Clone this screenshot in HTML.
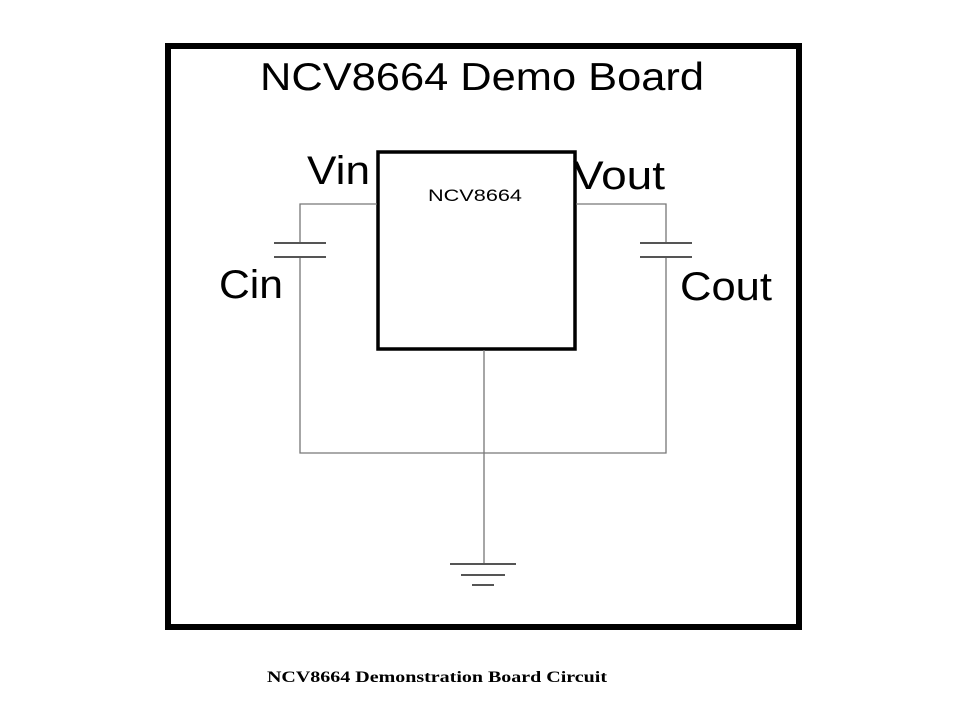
<!DOCTYPE html>
<html><head><style>
html,body{margin:0;padding:0;background:#fff;}
</style></head><body>
<svg width="978" height="699" viewBox="0 0 978 699" xmlns="http://www.w3.org/2000/svg">
<rect x="168" y="46" width="631" height="581" fill="none" stroke="#000" stroke-width="6"/>
<text x="482" y="90" font-family="Liberation Sans, sans-serif" font-size="39" text-anchor="middle" textLength="444" lengthAdjust="spacingAndGlyphs">NCV8664 Demo Board</text>
<rect x="378" y="152" width="197" height="197" fill="none" stroke="#000" stroke-width="3.5"/>
<text x="475" y="201" font-family="Liberation Sans, sans-serif" font-size="17" text-anchor="middle" textLength="94" lengthAdjust="spacingAndGlyphs">NCV8664</text>
<g stroke="#777" stroke-width="1.3" fill="none">
<polyline points="377,204 300,204 300,243"/>
<polyline points="300,257 300,453 666,453 666,257"/>
<polyline points="576,204 666,204 666,243"/>
<line x1="484" y1="350" x2="484" y2="564"/>
</g>
<g stroke="#555" stroke-width="2">
<line x1="274" y1="243" x2="326" y2="243"/>
<line x1="274" y1="257" x2="326" y2="257"/>
<line x1="640" y1="243" x2="692" y2="243"/>
<line x1="640" y1="257" x2="692" y2="257"/>
<line x1="450" y1="564" x2="516" y2="564"/>
<line x1="461" y1="575" x2="505" y2="575"/>
<line x1="472" y1="585" x2="494" y2="585"/>
</g>
<g font-family="Liberation Sans, sans-serif" font-size="40">
<text x="307" y="184" textLength="63" lengthAdjust="spacingAndGlyphs">Vin</text>
<text x="573" y="189" textLength="92" lengthAdjust="spacingAndGlyphs">Vout</text>
<text x="219" y="298" textLength="64" lengthAdjust="spacingAndGlyphs">Cin</text>
<text x="680" y="300" textLength="92" lengthAdjust="spacingAndGlyphs">Cout</text>
</g>
<text x="437" y="682" font-family="Liberation Serif, serif" font-weight="bold" font-size="16" text-anchor="middle" textLength="340" lengthAdjust="spacingAndGlyphs">NCV8664 Demonstration Board Circuit</text>
</svg>
</body></html>
